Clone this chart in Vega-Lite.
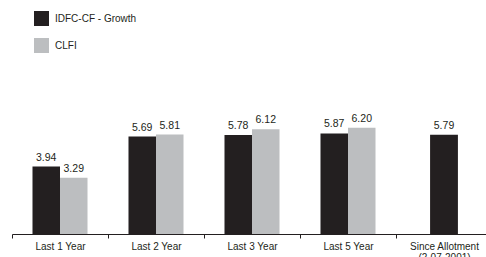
{
  "$schema": "https://vega.github.io/schema/vega-lite/v6.json",
  "autosize": {"type": "none"},
  "padding": {"left": 12, "top": 97, "right": 0, "bottom": 23},
  "width": 480,
  "height": 137,
  "background": "white",
  "config": {
    "view": {"stroke": null},
    "font": "Liberation Sans",
    "text": {"font": "Liberation Sans"}
  },
  "data": {
    "values": [
      {"period": "Last 1 Year", "series": "IDFC-CF - Growth", "value": 3.94},
      {"period": "Last 1 Year", "series": "CLFI", "value": 3.29},
      {"period": "Last 2 Year", "series": "IDFC-CF - Growth", "value": 5.69},
      {"period": "Last 2 Year", "series": "CLFI", "value": 5.81},
      {"period": "Last 3 Year", "series": "IDFC-CF - Growth", "value": 5.78},
      {"period": "Last 3 Year", "series": "CLFI", "value": 6.12},
      {"period": "Last 5 Year", "series": "IDFC-CF - Growth", "value": 5.87},
      {"period": "Last 5 Year", "series": "CLFI", "value": 6.20},
      {"period": "Since Allotment", "series": "IDFC-CF - Growth", "value": 5.79}
    ]
  },
  "encoding": {
    "x": {
      "field": "period",
      "type": "nominal",
      "sort": ["Last 1 Year", "Last 2 Year", "Last 3 Year", "Last 5 Year", "Since Allotment"],
      "scale": {"paddingInner": 0, "paddingOuter": 0},
      "axis": {
        "title": null,
        "labelAngle": 0,
        "tickBand": "extent",
        "tickSize": 4,
        "tickColor": "#231f20",
        "domainColor": "#231f20",
        "labelColor": "#231f20",
        "labelFont": "Liberation Sans",
        "labelFontSize": 10,
        "labelPadding": 3,
        "labelLineHeight": 11,
        "labelExpr": "datum.label == 'Since Allotment' ? ['Since Allotment', '(2-07-2001)'] : datum.label"
      }
    },
    "y": {
      "field": "value",
      "type": "quantitative",
      "scale": {"domain": [0, 8]},
      "axis": null
    }
  },
  "layer": [
    {
      "transform": [{"filter": "datum.period != 'Since Allotment'"}],
      "encoding": {
        "xOffset": {
          "field": "series",
          "type": "nominal",
          "sort": ["IDFC-CF - Growth", "CLFI"],
          "scale": {"paddingInner": 0, "paddingOuter": 0.745}
        }
      },
      "layer": [
        {
          "mark": {"type": "bar"},
          "encoding": {
            "color": {
              "field": "series",
              "type": "nominal",
              "sort": ["IDFC-CF - Growth", "CLFI"],
              "scale": {"domain": ["IDFC-CF - Growth", "CLFI"], "range": ["#231f20", "#bcbec0"]},
              "legend": {
                "title": null,
                "orient": "none",
                "legendX": 22,
                "legendY": -86,
                "symbolType": "square",
                "symbolSize": 225,
                "symbolStrokeWidth": 0,
                "labelFont": "Liberation Sans",
                "labelFontSize": 10,
                "labelColor": "#231f20",
                "labelOffset": 6,
                "rowPadding": 12
              }
            }
          }
        },
        {
          "mark": {"type": "text", "baseline": "bottom", "dy": -4, "fontSize": 10.5, "color": "#231f20"},
          "encoding": {"text": {"field": "value", "type": "quantitative", "format": ".2f"}}
        }
      ]
    },
    {
      "transform": [{"filter": "datum.period == 'Since Allotment'"}],
      "layer": [
        {
          "mark": {"type": "bar", "width": {"band": 0.29}},
          "encoding": {
            "color": {"field": "series", "type": "nominal"}
          }
        },
        {
          "mark": {"type": "text", "baseline": "bottom", "dy": -4, "fontSize": 10.5, "color": "#231f20"},
          "encoding": {"text": {"field": "value", "type": "quantitative", "format": ".2f"}}
        }
      ]
    }
  ]
}
